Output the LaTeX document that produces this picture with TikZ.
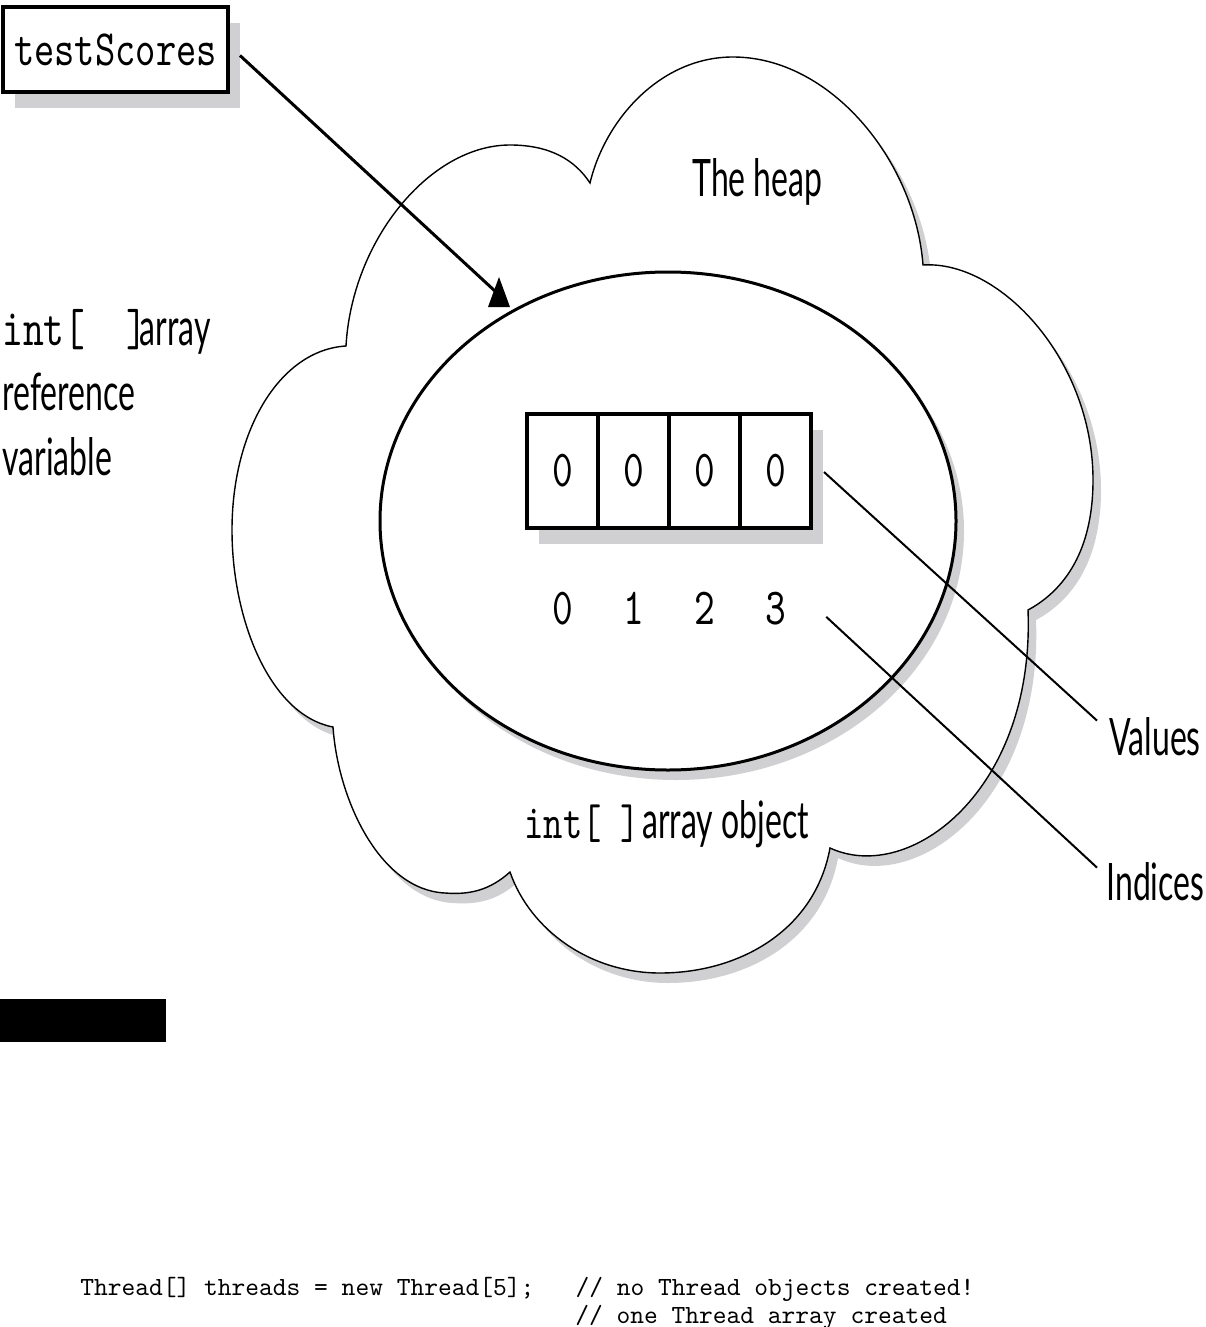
\documentclass[tikz,border=0pt]{standalone}
\usepackage{fontspec}
\usepackage{tikz}
\usetikzlibrary{positioning, shadows}
\newfontfamily\labelsans[FakeStretch=0.62]{Lato}
\newfontfamily\labelmono[FakeStretch=0.76]{lmmono10-regular.otf}
\newfontfamily\codemono{lmmono10-regular.otf}
\definecolor{shadowgray}{RGB}{208,208,210}

\begin{document}
\begin{tikzpicture}[
  x=0.5pt, y=-0.5pt,
  heapcloud/.style={draw=black, line width=0.7pt, fill=white, drop shadow={shadow xshift=4pt, shadow yshift=-5pt, fill=shadowgray, opacity=1}},
  heapobj/.style={draw=black, line width=1.5pt, fill=white, drop shadow={shadow xshift=4pt, shadow yshift=-5pt, fill=shadowgray, opacity=1}},
  boxshadow/.style={drop shadow={shadow xshift=6pt, shadow yshift=-8pt, fill=shadowgray, opacity=1}},
  refbox/.style={rectangle, draw=black, line width=2pt, fill=white, boxshadow, minimum width=112.5pt, minimum height=42.5pt, inner sep=0pt, font=\fontsize{25.4}{30}\labelmono},
  cell/.style={rectangle, draw=black, line width=2pt, fill=white, boxshadow, minimum width=35.5pt, minimum height=57pt, inner sep=0pt, outer sep=0pt, font=\fontsize{26}{28}\labelmono},
  idx/.style={inner sep=0pt, font=\fontsize{26}{28}\labelmono},
  heaptext/.style={anchor=base west, inner sep=0pt, font=\fontsize{25.8}{30}\labelsans},
  code/.style={anchor=base west, inner sep=0pt, font=\fontsize{13.1}{16}\codemono},
  leader/.style={draw, line width=1pt},
  pointer/.style={draw, line width=1.5pt}
]
  \useasboundingbox (0,0) rectangle (1205,1327);

  % the heap
  \draw[heapcloud] (346,346)
    .. controls (352,240) and (430,145) .. (510,145)
    .. controls (550,145) and (575,160) .. (590,183)
    .. controls (605,120) and (660,57) .. (733,57)
    .. controls (830,57) and (915,160) .. (923,265)
    .. controls (1000,260) and (1093,360) .. (1093,480)
    .. controls (1093,550) and (1065,590) .. (1028,610)
    .. controls (1035,790) and (910,885) .. (830,848)
    .. controls (815,930) and (740,973) .. (660,973)
    .. controls (590,973) and (530,930) .. (510,872)
    .. controls (490,890) and (470,895) .. (445,893)
    .. controls (380,890) and (338,800) .. (333,727)
    .. controls (270,715) and (232,620) .. (232,530)
    .. controls (232,430) and (280,350) .. (346,346) -- cycle;

  % array object
  \draw[heapobj] (668,521) ellipse [x radius=144pt, y radius=124.5pt];

  \node[cell] (v0) at (562.5,471) {0};
  \node[cell, right=0pt of v0] (v1) {0};
  \node[cell, right=0pt of v1] (v2) {0};
  \node[cell, right=0pt of v2] (v3) {0};

  \node[idx, below=32pt of v0] (i0) {0};
  \node[idx, below=32pt of v1] (i1) {1};
  \node[idx, below=32pt of v2] (i2) {2};
  \node[idx, below=32pt of v3] (i3) {3};

  \node[heaptext] (heap) at (692,196) {The heap};
  \node[heaptext] (objlabel) at (524,838) {{\fontsize{24.2}{30}\labelmono int[~]}\kern1pt array object};
  \node[heaptext] (values) at (1109,755) {Values};
  \node[heaptext] (indices) at (1106,900) {Indices};

  % reference variable
  \node[heaptext] (reflabel) at (2,345) {{\fontsize{26}{30}\labelmono int[~~]}\kern-4pt array};
  \node[heaptext] (reflabel2) at (2,410) {reference};
  \node[heaptext] (reflabel3) at (2,475) {variable};

  \node[refbox] (ref) at (115.5,49.5) {testScores};

  \coordinate (arrtip) at (499,277);
  \draw[pointer] ([shift={(10,6)}]ref.east) -- ([shift={(-3,15)}]arrtip);
  \fill (arrtip) -- ++(-11,30) -- ++(22,0) -- cycle;

  \draw[leader] ([shift={(13,1)}]v3.east) -- ([shift={(-12,4)}]values.north west);
  \draw[leader] ([shift={(40,8)}]i3.east) -- ([shift={(-9,6)}]indices.north west);

  % code
  \fill (0,999) rectangle (166,1042);
  \node[code] (code1) at (80,1295) {Thread[] threads = new Thread[5];\ \ \ // no Thread objects created!};
  \node[code] (code2) at (575,1323) {// one Thread array created};
\end{tikzpicture}
\end{document}
